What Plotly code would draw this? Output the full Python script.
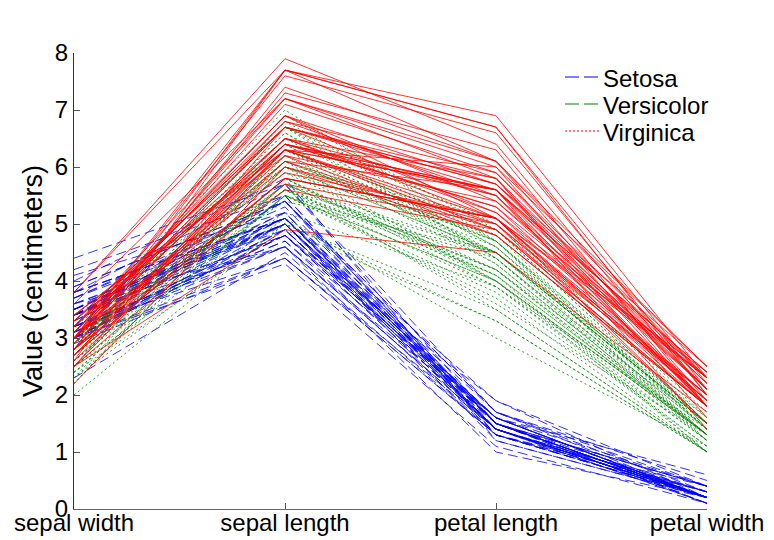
import plotly.graph_objects as go

feature_labels = ["sepal width", "sepal length", "petal length", "petal width"]
species_names = ["Setosa", "Versicolor", "Virginica"]

# Fisher iris measurements (cm)
setosa_sepal_length = [5.1,4.9,4.7,4.6,5.0,5.4,4.6,5.0,4.4,4.9,5.4,4.8,4.8,4.3,5.8,5.7,5.4,5.1,5.7,5.1,
                       5.4,5.1,4.6,5.1,4.8,5.0,5.0,5.2,5.2,4.7,4.8,5.4,5.2,5.5,4.9,5.0,5.5,4.9,4.4,5.1,
                       5.0,4.5,4.4,5.0,5.1,4.8,5.1,4.6,5.3,5.0]
setosa_sepal_width = [3.5,3.0,3.2,3.1,3.6,3.9,3.4,3.4,2.9,3.1,3.7,3.4,3.0,3.0,4.0,4.4,3.9,3.5,3.8,3.8,
                      3.4,3.7,3.6,3.3,3.4,3.0,3.4,3.5,3.4,3.2,3.1,3.4,4.1,4.2,3.1,3.2,3.5,3.6,3.0,3.4,
                      3.5,2.3,3.2,3.5,3.8,3.0,3.8,3.2,3.7,3.3]
setosa_petal_length = [1.4,1.4,1.3,1.5,1.4,1.7,1.4,1.5,1.4,1.5,1.5,1.6,1.4,1.1,1.2,1.5,1.3,1.4,1.7,1.5,
                       1.7,1.5,1.0,1.7,1.9,1.6,1.6,1.5,1.4,1.6,1.6,1.5,1.5,1.4,1.5,1.2,1.3,1.4,1.3,1.5,
                       1.3,1.3,1.3,1.6,1.9,1.4,1.6,1.4,1.5,1.4]
setosa_petal_width = [0.2,0.2,0.2,0.2,0.2,0.4,0.3,0.2,0.2,0.1,0.2,0.2,0.1,0.1,0.2,0.4,0.4,0.3,0.3,0.3,
                      0.2,0.4,0.2,0.5,0.2,0.2,0.4,0.2,0.2,0.2,0.2,0.4,0.1,0.2,0.2,0.2,0.2,0.1,0.2,0.2,
                      0.3,0.3,0.2,0.6,0.4,0.3,0.2,0.2,0.2,0.2]

versicolor_sepal_length = [7.0,6.4,6.9,5.5,6.5,5.7,6.3,4.9,6.6,5.2,5.0,5.9,6.0,6.1,5.6,6.7,5.6,5.8,6.2,5.6,
                           5.9,6.1,6.3,6.1,6.4,6.6,6.8,6.7,6.0,5.7,5.5,5.5,5.8,6.0,5.4,6.0,6.7,6.3,5.6,5.5,
                           5.5,6.1,5.8,5.0,5.6,5.7,5.7,6.2,5.1,5.7]
versicolor_sepal_width = [3.2,3.2,3.1,2.3,2.8,2.8,3.3,2.4,2.9,2.7,2.0,3.0,2.2,2.9,2.9,3.1,3.0,2.7,2.2,2.5,
                          3.2,2.8,2.5,2.8,2.9,3.0,2.8,3.0,2.9,2.6,2.4,2.4,2.7,2.7,3.0,3.4,3.1,2.3,3.0,2.5,
                          2.6,3.0,2.6,2.3,2.7,3.0,2.9,2.9,2.5,2.8]
versicolor_petal_length = [4.7,4.5,4.9,4.0,4.6,4.5,4.7,3.3,4.6,3.9,3.5,4.2,4.0,4.7,3.6,4.4,4.5,4.1,4.5,3.9,
                           4.8,4.0,4.9,4.7,4.3,4.4,4.8,5.0,4.5,3.5,3.8,3.7,3.9,5.1,4.5,4.5,4.7,4.4,4.1,4.0,
                           4.4,4.6,4.0,3.3,4.2,4.2,4.2,4.3,3.0,4.1]
versicolor_petal_width = [1.4,1.5,1.5,1.3,1.5,1.3,1.6,1.0,1.3,1.4,1.0,1.5,1.0,1.4,1.3,1.4,1.5,1.0,1.5,1.1,
                          1.8,1.3,1.5,1.2,1.3,1.4,1.4,1.7,1.5,1.0,1.1,1.0,1.2,1.6,1.5,1.6,1.5,1.3,1.3,1.3,
                          1.2,1.4,1.2,1.0,1.3,1.2,1.3,1.3,1.1,1.3]

virginica_sepal_length = [6.3,5.8,7.1,6.3,6.5,7.6,4.9,7.3,6.7,7.2,6.5,6.4,6.8,5.7,5.8,6.4,6.5,7.7,7.7,6.0,
                          6.9,5.6,7.7,6.3,6.7,7.2,6.2,6.1,6.4,7.2,7.4,7.9,6.4,6.3,6.1,7.7,6.3,6.4,6.0,6.9,
                          6.7,6.9,5.8,6.8,6.7,6.7,6.3,6.5,6.2,5.9]
virginica_sepal_width = [3.3,2.7,3.0,2.9,3.0,3.0,2.5,2.9,2.5,3.6,3.2,2.7,3.0,2.5,2.8,3.2,3.0,3.8,2.6,2.2,
                         3.2,2.8,2.8,2.7,3.3,3.2,2.8,3.0,2.8,3.0,2.8,3.8,2.8,2.8,2.6,3.0,3.4,3.1,3.0,3.1,
                         3.1,3.1,2.7,3.2,3.3,3.0,2.5,3.0,3.4,3.0]
virginica_petal_length = [6.0,5.1,5.9,5.6,5.8,6.6,4.5,6.3,5.8,6.1,5.1,5.3,5.5,5.0,5.1,5.3,5.5,6.7,6.9,5.0,
                          5.7,4.9,6.7,4.9,5.7,6.0,4.8,4.9,5.6,5.8,6.1,6.4,5.6,5.1,5.6,6.1,5.6,5.5,4.8,5.4,
                          5.6,5.1,5.1,5.9,5.7,5.2,5.0,5.2,5.4,5.1]
virginica_petal_width = [2.5,1.9,2.1,1.8,2.2,2.1,1.7,1.8,1.8,2.5,2.0,1.9,2.1,2.0,2.4,2.3,1.8,2.2,2.3,1.5,
                         2.3,2.0,2.0,1.8,2.1,1.8,1.8,1.8,2.1,1.6,1.9,2.0,2.2,1.5,1.4,2.3,2.4,1.8,1.8,2.1,
                         2.4,2.3,1.9,2.3,2.5,2.3,1.9,2.0,2.3,1.8]

groups = [
    (setosa_sepal_width, setosa_sepal_length, setosa_petal_length, setosa_petal_width),
    (versicolor_sepal_width, versicolor_sepal_length, versicolor_petal_length, versicolor_petal_width),
    (virginica_sepal_width, virginica_sepal_length, virginica_petal_length, virginica_petal_width),
]
plot_styles = [("#0000ff", "10px,5px"), ("#008000", "2px,3px"), ("#ff0000", "solid")]
legend_styles = [("#0000ff", "14px,5px"), ("#008000", "14px,5px"), ("#ff0000", "2px,2px")]

W, H = 774, 540
OFF = 8  # page body offset of the figure
BOX_L, BOX_R, BOX_T, BOX_B = 74, 707, 53, 509  # plot box in page pixels
PW, PH = BOX_R - BOX_L, BOX_B - BOX_T
ML, MT = BOX_L - OFF, BOX_T - OFF
MR, MB = W - ML - PW, H - MT - PH

positions = [1, 2, 3, 4]
fig = go.Figure()
for cols, (color, dash) in zip(groups, plot_styles):
    xs, ys = [], []
    for row in zip(*cols):
        xs += positions + [None]
        ys += list(row) + [None]
    fig.add_trace(go.Scatter(x=xs, y=ys, mode="lines", showlegend=False, hoverinfo="skip",
                             line=dict(color=color, width=0.8, dash=dash)))

# custom legend (page pixel placement converted to paper coords)
def px(x):
    return (x - BOX_L) / PW

def py(y):
    return (BOX_B - y) / PH

legend_rows = [77, 104, 131]
shapes, annotations = [], []
for name, (color, dash), yrow in zip(species_names, legend_styles, legend_rows):
    shapes.append(dict(type="line", xref="paper", yref="paper", x0=px(565), x1=px(599),
                       y0=py(yrow), y1=py(yrow), line=dict(color=color, width=1.2, dash=dash)))
    annotations.append(dict(xref="paper", yref="paper", x=px(601), y=py(yrow + 1), text=name,
                            showarrow=False, xanchor="left", yanchor="middle",
                            font=dict(size=24, color="black")))

font = "Liberation Sans, Arial, sans-serif"
fig.update_layout(
    width=W, height=H,
    margin=dict(l=ML, r=MR, t=MT, b=MB),
    paper_bgcolor="white", plot_bgcolor="white",
    font=dict(family=font, size=24, color="black"),
    showlegend=False,
    shapes=shapes, annotations=annotations,
    xaxis=dict(range=[1, 4], tickvals=positions, ticktext=feature_labels, automargin=False,
               showgrid=False, zeroline=False, showline=True, linecolor="#666666", linewidth=1,
               ticks="inside", ticklen=6, tickcolor="#555555", tickfont=dict(size=24),
               ticklabelstandoff=-8),
    yaxis=dict(range=[0, 8], dtick=1, showgrid=False, zeroline=False, showline=True, automargin=False,
               linecolor="#333333", linewidth=1, ticks="inside", ticklen=6, tickcolor="#555555",
               tickfont=dict(size=24),
               title=dict(text="Value (centimeters)", font=dict(size=27), standoff=4)),
)
fig.write_html("out.html")
